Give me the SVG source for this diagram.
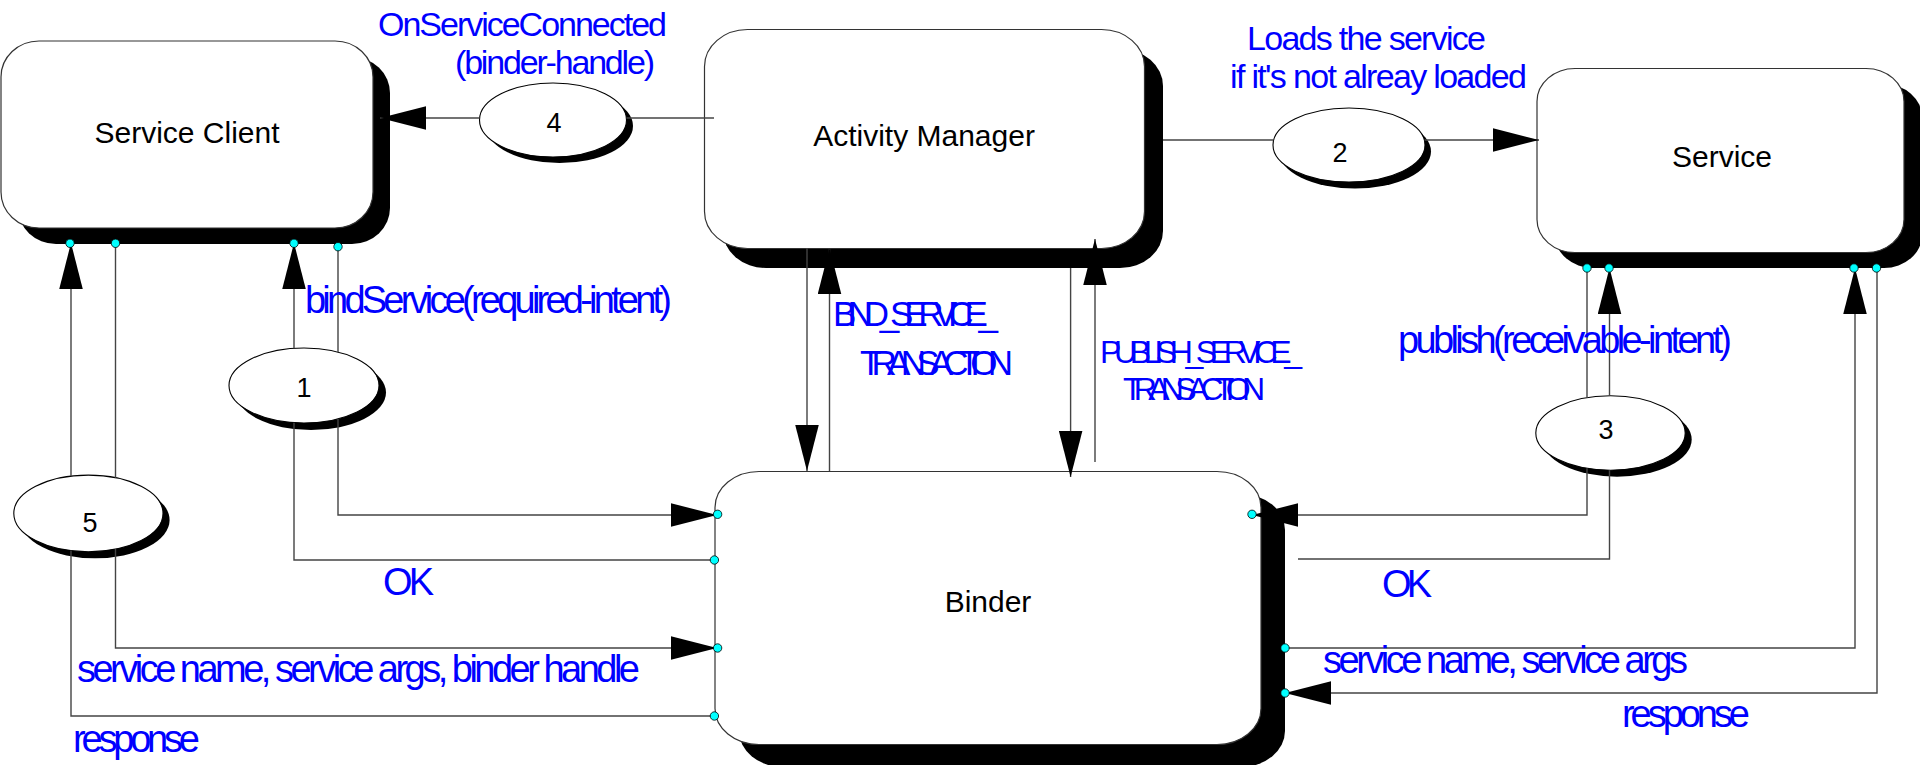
<svg xmlns="http://www.w3.org/2000/svg" width="1920" height="765" viewBox="0 0 1920 765">
  <defs>
    <marker id="arrow" markerUnits="userSpaceOnUse" markerWidth="46" markerHeight="24" viewBox="0 0 45 23" refX="45" refY="11.5" orient="auto">
      <path d="M0,0 L45,11.5 L0,23 Z" fill="#000"/>
    </marker>
  </defs>
  <style>
    .shadow { fill: #000; }
    .box { fill: #fff; stroke: #333; stroke-width: 1.2; }
    .step { fill: #fff; stroke: #000; stroke-width: 1.1; }
    .node-label { font-family: "Liberation Sans", Arial, sans-serif; font-size: 30px; fill: #000; text-anchor: middle; }
    .num { font-family: "Liberation Sans", Arial, sans-serif; font-size: 27px; fill: #000; text-anchor: middle; }
    .msg { font-family: "Liberation Sans", Arial, sans-serif; font-size: 38px; fill: #0000ff; }
    .msg-stack { font-family: "Liberation Sans", Arial, sans-serif; font-size: 34px; fill: #0000ff; }
    .msg-caps { font-family: "Liberation Sans", Arial, sans-serif; font-size: 35px; fill: #0000ff; }
    .msg-caps-tight { font-family: "Liberation Sans", Arial, sans-serif; font-size: 32px; fill: #0000ff; }
    .conn { fill: none; stroke: #444; stroke-width: 1.4; }
    .conn-arrow { fill: none; stroke: #444; stroke-width: 1.4; marker-end: url(#arrow); }
    .port { fill: #00ffff; stroke: #000; stroke-width: 0.8; }
  </style>

  <rect width="1920" height="765" fill="#fff"/>

  <!-- Process boxes -->
  <g id="service-client">
    <rect class="shadow" x="18" y="57" width="372" height="187" rx="38" ry="36"/>
    <rect class="box" x="1" y="41" width="372" height="187" rx="38" ry="36"/>
    <text class="node-label" x="187" y="143">Service Client</text>
  </g>
  <g id="activity-manager">
    <rect class="shadow" x="723" y="49" width="440" height="219" rx="43" ry="37"/>
    <rect class="box" x="704.5" y="29.5" width="440" height="219" rx="43" ry="37"/>
    <text class="node-label" x="924" y="146">Activity Manager</text>
  </g>
  <g id="service">
    <rect class="shadow" x="1555" y="84" width="367" height="184" rx="38" ry="33"/>
    <rect class="box" x="1537" y="68.5" width="367" height="184" rx="38" ry="33"/>
    <text class="node-label" x="1722" y="167">Service</text>
  </g>
  <g id="binder">
    <rect class="shadow" x="739" y="494" width="546" height="273" rx="44" ry="36"/>
    <rect class="box" x="715" y="471.5" width="546" height="273" rx="44" ry="36"/>
    <text class="node-label" x="988" y="612">Binder</text>
  </g>

  <!-- Numbered steps -->
  <g id="step-1">
    <ellipse class="shadow" cx="311" cy="392.5" rx="75" ry="37.5"/>
    <ellipse class="step" cx="304" cy="385.5" rx="75" ry="37.5"/>
    <text class="num" x="304" y="397">1</text>
  </g>
  <g id="step-2">
    <ellipse class="shadow" cx="1355" cy="151.5" rx="76" ry="37"/>
    <ellipse class="step" cx="1349" cy="145" rx="76" ry="37"/>
    <text class="num" x="1340" y="162">2</text>
  </g>
  <g id="step-3">
    <ellipse class="shadow" cx="1617" cy="439.5" rx="74.7" ry="37.2"/>
    <ellipse class="step" cx="1610.5" cy="433" rx="74.7" ry="37.2"/>
    <text class="num" x="1606" y="439">3</text>
  </g>
  <g id="step-4">
    <ellipse class="shadow" cx="559.5" cy="126" rx="73.5" ry="37"/>
    <ellipse class="step" cx="553" cy="120" rx="73.5" ry="37"/>
    <text class="num" x="554" y="132">4</text>
  </g>
  <g id="step-5">
    <ellipse class="shadow" cx="95" cy="520" rx="74.6" ry="38.3"/>
    <ellipse class="step" cx="88.4" cy="513.4" rx="74.6" ry="38.3"/>
    <text class="num" x="90" y="531.5">5</text>
  </g>

  <!-- Connectors -->
  <g id="connectors">
    <!-- step 1: bindService request and OK -->
    <path class="conn" d="M338,247 V352"/>
    <path class="conn-arrow" d="M338,419 V515 H717"/>
    <path class="conn" d="M714.4,560 H294 V422.7"/>
    <path class="conn-arrow" d="M294,348.3 V243"/>
    <!-- step 5: call and response -->
    <path class="conn" d="M115.5,243 V477.8"/>
    <path class="conn-arrow" d="M115.5,549 V648 H717"/>
    <path class="conn" d="M714.4,716 H71 V550.6"/>
    <path class="conn-arrow" d="M71,476 V243"/>
    <!-- step 4: OnServiceConnected -->
    <path class="conn" d="M714,118 H626.5"/>
    <path class="conn-arrow" d="M479.5,118 H380"/>
    <!-- step 2: load service -->
    <path class="conn" d="M1163,140 H1273.5"/>
    <path class="conn-arrow" d="M1424.5,140 H1539"/>
    <!-- Activity Manager / Binder transactions -->
    <path class="conn-arrow" d="M807,248 V471"/>
    <path class="conn-arrow" d="M829.5,471 V248"/>
    <path class="conn-arrow" d="M1070.6,268 V477"/>
    <path class="conn-arrow" d="M1095,462 V239"/>
    <!-- step 3: publish and OK -->
    <path class="conn" d="M1587,268 V397.7"/>
    <path class="conn-arrow" d="M1587,468.3 V515 H1252"/>
    <path class="conn" d="M1298,559 H1609.5 V470.2"/>
    <path class="conn-arrow" d="M1609.5,395.8 V268"/>
    <!-- service call and response -->
    <path class="conn-arrow" d="M1285,648 H1855 V268"/>
    <path class="conn-arrow" d="M1877,268 V693 H1285"/>
  </g>

  <!-- Connection ports -->
  <g id="ports">
    <circle class="port" cx="70" cy="243.3" r="4.2"/>
    <circle class="port" cx="115.5" cy="243.3" r="4.2"/>
    <circle class="port" cx="294" cy="243.3" r="4.2"/>
    <circle class="port" cx="338" cy="246.7" r="4.2"/>
    <circle class="port" cx="1587" cy="268" r="4.2"/>
    <circle class="port" cx="1609" cy="268" r="4.2"/>
    <circle class="port" cx="1854" cy="268" r="4.2"/>
    <circle class="port" cx="1876.5" cy="268" r="4.2"/>
    <circle class="port" cx="717.6" cy="514.3" r="4.2"/>
    <circle class="port" cx="714.4" cy="560" r="4.2"/>
    <circle class="port" cx="717.6" cy="648" r="4.2"/>
    <circle class="port" cx="714.4" cy="716" r="4.2"/>
    <circle class="port" cx="1252" cy="514.3" r="4.2"/>
    <circle class="port" cx="1285" cy="648" r="4.2"/>
    <circle class="port" cx="1285" cy="693" r="4.2"/>
  </g>

  <!-- Message labels (two-line labels kept as one text each) -->
  <g id="labels">
    <text class="msg-stack"><tspan x="378" y="36" textLength="289">OnServiceConnected</tspan><tspan x="455" y="74" textLength="200">(binder-handle)</tspan></text>
    <text class="msg-stack"><tspan x="1247" y="50" textLength="239">Loads the service</tspan><tspan x="1230" y="88" textLength="297">if it's not alreay loaded</tspan></text>
    <text class="msg" x="305" y="313" textLength="367">bindService(required-intent)</text>
    <text class="msg-caps"><tspan x="833" y="326" textLength="165">BIND_SERVICE_</tspan><tspan x="860" y="375" textLength="153">TRANSACTION</tspan></text>
    <text class="msg-caps-tight"><tspan x="1100" y="363" textLength="202">PUBLISH_SERVICE_</tspan><tspan x="1123" y="400" textLength="142">TRANSACTION</tspan></text>
    <text class="msg" x="1398" y="353" textLength="334">publish(receivable-intent)</text>
    <text class="msg" x="383" y="595" textLength="51">OK</text>
    <text class="msg" x="77" y="681.5" textLength="563">service name, service args, binder handle</text>
    <text class="msg" x="73" y="751.5" textLength="127">response</text>
    <text class="msg" x="1382" y="596.5" textLength="50">OK</text>
    <text class="msg" x="1323" y="673.3" textLength="365">service name, service args</text>
    <text class="msg" x="1622" y="726.5" textLength="128">response</text>
  </g>
</svg>
